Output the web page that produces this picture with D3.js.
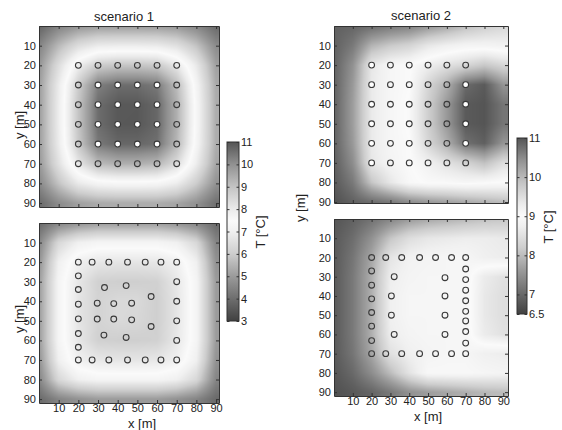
<!DOCTYPE html>
<html>
<head>
<meta charset="utf-8">
<script src="https://cdnjs.cloudflare.com/ajax/libs/d3/7.8.5/d3.min.js"></script>
<style>
  body { margin: 0; background: #fff; }
  text { font-family: "Liberation Sans", Arial, sans-serif; fill: #222; }
</style>
</head>
<body>
<svg id="chart" width="562" height="430"></svg>
<script>
// grid node coordinates [m] for the temperature fields (x and y)
const nodes = [0, 10, 20, 30, 40, 50, 60, 70, 80, 90];
const axisTicks = [10, 20, 30, 40, 50, 60, 70, 80, 90];

// temperature [°C] at nodes, rows = y (0..90), columns = x (0..90)
const tempS1Top = [
  [3.75, 4.45, 4.85, 5.0, 5.0, 5.0, 5.0, 4.9, 4.55, 3.9],
  [4.45, 5.6, 6.45, 6.85, 6.9, 6.9, 6.85, 6.55, 5.8, 4.65],
  [4.85, 6.45, 7.9, 8.75, 8.95, 8.95, 8.85, 8.1, 6.8, 5.1],
  [5.0, 6.85, 8.75, 10.3, 10.6, 10.6, 10.4, 9.15, 7.2, 5.3],
  [5.0, 6.9, 8.95, 10.6, 10.93, 10.94, 10.7, 9.4, 7.3, 5.35],
  [5.0, 6.9, 8.95, 10.6, 10.94, 10.95, 10.7, 9.4, 7.3, 5.35],
  [5.0, 6.85, 8.85, 10.4, 10.7, 10.7, 10.55, 9.25, 7.25, 5.35],
  [4.9, 6.55, 8.1, 9.15, 9.4, 9.4, 9.25, 8.4, 6.9, 5.2],
  [4.55, 5.8, 6.8, 7.2, 7.3, 7.3, 7.25, 6.9, 6.0, 4.8],
  [3.9, 4.65, 5.1, 5.3, 5.35, 5.35, 5.35, 5.2, 4.8, 4.05]
];
const tempS1Bottom = [
  [3.9, 4.5, 4.8, 5.0, 5.0, 5.0, 5.0, 4.8, 4.5, 3.9],
  [4.5, 6.3, 7.0, 7.2, 7.2, 7.2, 7.2, 7.0, 6.3, 4.5],
  [4.8, 7.0, 7.85, 8.1, 8.15, 8.15, 8.1, 7.85, 7.0, 4.8],
  [5.0, 7.2, 8.1, 8.65, 8.7, 8.7, 8.65, 8.1, 7.2, 5.0],
  [5.0, 7.2, 8.15, 8.6, 8.45, 8.45, 8.7, 8.15, 7.2, 5.0],
  [5.0, 7.2, 8.15, 8.6, 8.45, 8.5, 8.7, 8.15, 7.2, 5.0],
  [5.0, 7.2, 8.1, 8.65, 8.7, 8.7, 8.65, 8.1, 7.2, 5.0],
  [4.8, 7.0, 7.85, 8.1, 8.15, 8.15, 8.1, 7.85, 7.0, 4.8],
  [4.5, 6.3, 7.0, 7.2, 7.2, 7.2, 7.2, 7.0, 6.3, 4.5],
  [3.9, 4.5, 4.8, 5.0, 5.0, 5.0, 5.0, 4.8, 4.5, 3.9]
];
const tempS2Top = [
  [6.9, 6.95, 7.05, 7.2, 7.3, 7.55, 7.75, 8.0, 8.2, 8.35],
  [6.9, 7.2, 7.9, 8.15, 8.3, 8.6, 8.75, 8.85, 8.85, 8.8],
  [6.9, 7.5, 8.6, 8.9, 9.0, 9.25, 9.45, 9.6, 9.8, 9.6],
  [6.9, 7.6, 8.65, 8.9, 9.0, 9.6, 10.1, 10.8, 10.95, 10.4],
  [6.9, 7.65, 8.65, 8.9, 9.05, 9.7, 10.35, 10.95, 11.0, 10.7],
  [6.9, 7.65, 8.65, 8.9, 9.05, 9.7, 10.35, 10.95, 11.0, 10.7],
  [6.9, 7.6, 8.65, 8.9, 9.0, 9.6, 10.1, 10.75, 10.9, 10.4],
  [6.85, 7.45, 8.6, 8.85, 9.0, 9.2, 9.45, 9.65, 9.9, 9.5],
  [6.8, 7.2, 8.1, 8.6, 8.95, 9.05, 9.05, 9.1, 9.05, 9.0],
  [6.7, 6.9, 7.05, 7.2, 7.45, 7.6, 7.7, 7.8, 7.9, 8.0]
];
const tempS2Bottom = [
  [6.75, 6.9, 7.1, 7.35, 7.6, 7.75, 7.85, 7.95, 8.05, 8.1],
  [6.8, 7.05, 7.5, 8.1, 8.45, 8.6, 8.65, 8.7, 8.7, 8.65],
  [6.8, 7.15, 7.75, 8.55, 8.8, 8.85, 8.9, 8.9, 8.75, 8.7],
  [6.8, 7.2, 7.85, 8.7, 8.85, 8.9, 8.9, 8.9, 9.3, 9.45],
  [6.8, 7.2, 7.85, 8.75, 8.9, 8.9, 8.9, 8.9, 9.35, 9.5],
  [6.8, 7.2, 7.85, 8.75, 8.9, 8.9, 8.9, 8.9, 9.35, 9.5],
  [6.8, 7.2, 7.85, 8.7, 8.85, 8.9, 8.9, 8.9, 9.3, 9.45],
  [6.8, 7.15, 7.75, 8.5, 8.75, 8.85, 8.9, 8.9, 8.75, 8.7],
  [6.75, 7.0, 7.45, 8.0, 8.55, 8.95, 8.95, 8.95, 8.9, 8.85],
  [6.7, 6.8, 6.95, 7.2, 7.5, 7.65, 7.75, 7.85, 7.95, 8.0]
];

// borehole positions [m]: [x, y, active]
const wellGrid = [20, 30, 40, 50, 60, 70];
const wellsS1Top = [];
wellGrid.forEach(y => wellGrid.forEach(x => {
  wellsS1Top.push([x, y, x >= 30 && x <= 60 && y >= 30 && y <= 60]);
}));
const wellsS2Top = [];
wellGrid.forEach(y => wellGrid.forEach(x => {
  wellsS2Top.push([x, y, x === 20 || (x === 70 && y >= 30 && y <= 60)]);
}));
const wellsS1Bottom = [
  [20, 20], [27, 20], [35.5, 20], [45, 20], [54, 20], [62, 20], [70, 20],
  [20, 70], [27, 70], [35.5, 70], [45, 70], [54, 70], [62, 70], [70, 70],
  [20, 27], [20, 34], [20, 41.5], [20, 49], [20, 56.5], [20, 63.5],
  [70, 30], [70, 40], [70, 50], [70, 60],
  [33.3, 33], [44.3, 32], [57, 37.6], [29.6, 41], [38, 41.2], [47.1, 41],
  [29.6, 49.1], [38, 49.1], [47.1, 49.5], [57, 52.9], [33, 57.3], [44.3, 58.5]
];
const wellsS2Bottom = [
  [20, 20], [27.5, 20], [36, 20], [45.5, 20], [54, 20], [62.5, 20], [70, 20],
  [20, 70], [27.5, 70], [36, 70], [45.5, 70], [54, 70], [62.5, 70], [70, 70],
  [20, 27], [20, 34.4], [20, 41.5], [20, 48.6], [20, 55.7], [20, 63.2],
  [70, 26], [70, 31.5], [70, 37], [70, 42.5], [70, 48], [70, 53], [70, 58.5], [70, 64.5],
  [32, 30], [59, 30.5], [30.5, 40], [59, 40], [30.5, 50], [59, 50], [32, 60], [59, 60]
];

// colour bars
const cbTicksS1 = [3, 4, 5, 6, 7, 8, 9, 10, 11];
const cbTicksS2 = [6.5, 7, 8, 9, 10, 11];
// grey colormap: dark - white - dark, positions as fraction of the range
const cmapPos = [0, 0.125, 0.25, 0.375, 0.5, 0.56, 0.625, 0.75, 0.875, 1];
const cmapGray = [65, 110, 155, 205, 240, 250, 235, 195, 145, 85];

const svg = d3.select('#chart');

function colorScale(lo, hi) {
  return d3.scaleLinear()
    .domain(cmapPos.map(t => lo + t * (hi - lo)))
    .range(cmapGray)
    .clamp(true);
}

function sample(grid, x, y) {
  let cx = Math.max(0, Math.min(90, x)) / 10, cy = Math.max(0, Math.min(90, y)) / 10;
  let i = Math.min(8, Math.floor(cx)), j = Math.min(8, Math.floor(cy));
  let fx = cx - i, fy = cy - j;
  return (1 - fy) * ((1 - fx) * grid[j][i] + fx * grid[j][i + 1]) +
    fy * ((1 - fx) * grid[j + 1][i] + fx * grid[j + 1][i + 1]);
}

function panel(p) {
  let x = d3.scaleLinear().domain(p.xDom).range([p.left, p.left + p.w]);
  let y = d3.scaleLinear().domain(p.yDom).range([p.top, p.top + p.h]);
  let gray = colorScale(p.lo, p.hi);

  // field raster
  let canvas = document.createElement('canvas');
  canvas.width = p.w; canvas.height = p.h;
  let ctx = canvas.getContext('2d');
  let img = ctx.createImageData(p.w, p.h);
  for (let r = 0; r < p.h; r++) {
    for (let c = 0; c < p.w; c++) {
      let v = sample(p.grid, x.invert(p.left + c + 0.5), y.invert(p.top + r + 0.5));
      let g = Math.round(gray(v));
      let k = (r * p.w + c) * 4;
      img.data[k] = g; img.data[k + 1] = g; img.data[k + 2] = g; img.data[k + 3] = 255;
    }
  }
  ctx.putImageData(img, 0, 0);
  svg.append('image')
    .attr('x', p.left).attr('y', p.top)
    .attr('width', p.w).attr('height', p.h)
    .attr('preserveAspectRatio', 'none')
    .attr('href', canvas.toDataURL());

  // wells
  svg.append('g').selectAll('circle')
    .data(p.wells)
    .join('circle')
    .attr('cx', d => x(d[0]))
    .attr('cy', d => y(d[1]))
    .attr('r', 2.9)
    .attr('fill', d => d[2] ? '#fff' : 'none')
    .attr('stroke', '#3a3a3a')
    .attr('stroke-width', 1.1);

  // axes, ticks pointing inward on all sides
  let axes = [
    [d3.axisLeft(y), 'translate(' + p.left + ',0)', true],
    [d3.axisRight(y), 'translate(' + (p.left + p.w) + ',0)', false],
    [d3.axisTop(x), 'translate(0,' + p.top + ')', false],
    [d3.axisBottom(x), 'translate(0,' + (p.top + p.h) + ')', p.xLabels]
  ];
  axes.forEach(([ax, tr, labels], i) => {
    let g = svg.append('g')
      .attr('transform', tr)
      .call(ax.tickValues(axisTicks).tickSizeInner(-3).tickSizeOuter(0).tickPadding(i === 3 ? 1 : 3)
        .tickFormat(labels ? d3.format('d') : ''));
    g.select('.domain').attr('stroke', '#333');
    g.selectAll('.tick line').attr('stroke', '#333');
    g.selectAll('.tick text').attr('font-size', 11).attr('fill', '#333')
      .attr('font-family', '"Liberation Sans", Arial, sans-serif');
  });
}

function colorbar(cb) {
  let y = d3.scaleLinear().domain([cb.lo, cb.hi]).range([cb.top + cb.h, cb.top]);
  let id = 'grad' + cb.lo;
  let grad = svg.append('defs').append('linearGradient')
    .attr('id', id).attr('x1', 0).attr('y1', 1).attr('x2', 0).attr('y2', 0);
  grad.selectAll('stop')
    .data(cmapPos)
    .join('stop')
    .attr('offset', d => d)
    .attr('stop-color', (d, i) => d3.rgb(cmapGray[i], cmapGray[i], cmapGray[i]));
  svg.append('rect')
    .attr('x', cb.left).attr('y', cb.top)
    .attr('width', cb.w).attr('height', cb.h)
    .attr('fill', 'url(#' + id + ')')
    .attr('stroke', '#333').attr('stroke-width', 1);
  let g = svg.append('g')
    .attr('transform', 'translate(' + (cb.left + cb.w) + ',0)')
    .call(d3.axisRight(y).tickValues(cb.ticks).tickSizeInner(-2.5).tickSizeOuter(0).tickPadding(2)
      .tickFormat(d3.format('')));
  g.select('.domain').remove();
  g.selectAll('.tick line').attr('stroke', '#333');
  g.selectAll('.tick text').attr('font-size', 11).attr('fill', '#333')
    .attr('font-family', '"Liberation Sans", Arial, sans-serif');
  let g2 = svg.append('g')
    .attr('transform', 'translate(' + cb.left + ',0)')
    .call(d3.axisLeft(y).tickValues(cb.ticks).tickSizeInner(-2.5).tickSizeOuter(0).tickFormat(''));
  g2.select('.domain').remove();
  g2.selectAll('.tick line').attr('stroke', '#333');
  svg.append('text')
    .attr('transform', 'translate(' + cb.labelX + ',' + cb.labelY + ') rotate(-90)')
    .attr('text-anchor', 'middle')
    .attr('font-size', 13)
    .text('T [°C]');
}

panel({ grid: tempS1Top, wells: wellsS1Top, lo: 3, hi: 11, left: 39, top: 26, w: 180, h: 181,
  xDom: [0, 91.5], yDom: [0, 92], xLabels: false });
panel({ grid: tempS1Bottom, wells: wellsS1Bottom, lo: 3, hi: 11, left: 39, top: 223, w: 180, h: 180,
  xDom: [0, 91.5], yDom: [0, 92], xLabels: true });
panel({ grid: tempS2Top, wells: wellsS2Top, lo: 6.5, hi: 11, left: 334, top: 26, w: 174, h: 177,
  xDom: [0, 92.5], yDom: [0, 90.5], xLabels: false });
panel({ grid: tempS2Bottom, wells: wellsS2Bottom, lo: 6.5, hi: 11, left: 334, top: 219, w: 174, h: 177,
  xDom: [0, 92.5], yDom: [0, 92], xLabels: true });

colorbar({ lo: 3, hi: 11, ticks: cbTicksS1, left: 227, top: 142, w: 12, h: 179, labelX: 265, labelY: 232 });
colorbar({ lo: 6.5, hi: 11, ticks: cbTicksS2, left: 517, top: 138, w: 10, h: 176, labelX: 553, labelY: 227 });

// titles and axis labels
svg.append('text').attr('x', 124).attr('y', 21).attr('text-anchor', 'middle').attr('font-size', 13).text('scenario 1');
svg.append('text').attr('x', 421).attr('y', 20).attr('text-anchor', 'middle').attr('font-size', 13).text('scenario 2');
svg.append('text').attr('x', 142).attr('y', 428).attr('text-anchor', 'middle').attr('font-size', 13).text('x [m]');
svg.append('text').attr('x', 428).attr('y', 421).attr('text-anchor', 'middle').attr('font-size', 13).text('x [m]');
[[24, 125], [24, 319], [305, 208]].forEach(([lx, ly]) => {
  svg.append('text')
    .attr('transform', 'translate(' + lx + ',' + ly + ') rotate(-90)')
    .attr('text-anchor', 'middle')
    .attr('font-size', 13)
    .text('y [m]');
});
</script>
</body>
</html>
